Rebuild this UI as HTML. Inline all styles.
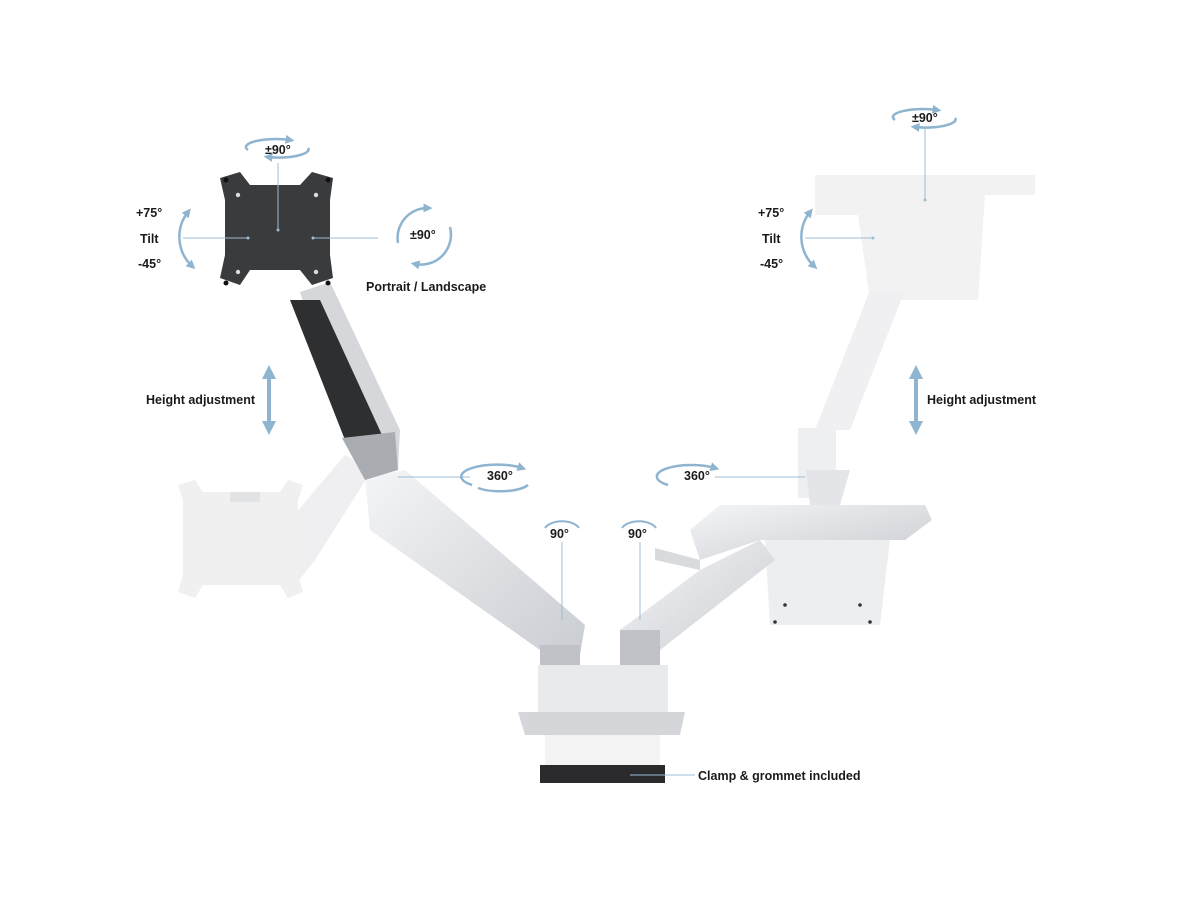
<!DOCTYPE html>
<html><head><meta charset="utf-8"><style>
html,body{margin:0;padding:0;background:#fff;width:1200px;height:900px;overflow:hidden}
text{font-family:"Liberation Sans",sans-serif;font-weight:bold;font-size:12.5px;fill:#1a1a1a}
</style></head><body>
<svg width="1200" height="900" viewBox="0 0 1200 900" xmlns="http://www.w3.org/2000/svg">
<defs>
<marker id="ah" viewBox="0 0 10 10" refX="5" refY="5" markerWidth="9" markerHeight="9" markerUnits="userSpaceOnUse" orient="auto-start-reverse"><path d="M0,0L10,5L0,10z" fill="#8fb4cf"/></marker>
<marker id="ah2" viewBox="0 0 10 10" refX="5" refY="5" markerWidth="14" markerHeight="14" markerUnits="userSpaceOnUse" orient="auto-start-reverse"><path d="M0,0L10,5L0,10z" fill="#8fb4cf"/></marker>
<linearGradient id="sil" x1="0" y1="0" x2="1" y2="1"><stop offset="0" stop-color="#f4f5f7"/><stop offset="1" stop-color="#c9ccd1"/></linearGradient>
</defs>
<!-- ghost left monitor plate & arm -->
<path d="M290,520 L345,455 L372,470 L315,560 L295,585z" fill="#efeff1"/>
<path d="M178,485 L195,480 L203,492 H280 L288,480 L303,485 L298,500 V575 L303,592 L288,598 L280,585 H203 L195,598 L178,592 L183,575 V500z" fill="#f0f0f1"/>
<rect x="230" y="492" width="30" height="10" fill="#e2e3e5"/>
<!-- ghost right tray + arm -->
<path d="M815,175 H1035 V195 H985 L978,300 H870 L858,215 H815z" fill="#f2f2f3"/>
<path d="M870,290 L905,290 L850,430 L815,430z" fill="#f0f0f2"/>
<rect x="798" y="428" width="38" height="70" fill="#eeeff1"/>
<path d="M806,470 L850,470 L840,505 L810,505z" fill="#e3e5e8"/>
<!-- right tray -->
<path d="M690,530 L720,505 L925,505 L932,520 L905,540 L760,540 L700,560z" fill="url(#sil)"/>
<path d="M655,548 L700,560 L700,570 L655,560z" fill="#d8dadd"/>
<path d="M765,540 L890,540 L880,625 L770,625z" fill="#eceef0"/>
<g fill="#333"><circle cx="785" cy="605" r="1.8"/><circle cx="860" cy="605" r="1.8"/><circle cx="775" cy="622" r="1.8"/><circle cx="870" cy="622" r="1.8"/></g>
<!-- right lower arm -->
<path d="M620,630 L700,570 L760,540 L775,560 L660,650 L620,660z" fill="url(#sil)"/>
<!-- left lower arm -->
<path d="M365,478 L405,470 L585,625 L580,655 L545,660 L540,650 L370,530z" fill="url(#sil)"/>
<!-- base -->
<path d="M540,645 H580 V668 H540z" fill="#bfc2c6"/>
<path d="M620,630 H660 V668 H620z" fill="#bfc2c6"/>
<path d="M538,665 H668 V715 H538z" fill="#e9eaec"/>
<path d="M518,712 H685 L680,735 H525z" fill="#d4d6d9"/>
<rect x="545" y="735" width="115" height="30" fill="#f3f3f4"/>
<rect x="540" y="765" width="125" height="18" fill="#2a2a2c"/>
<!-- left upper arm -->
<path d="M300,292 L330,282 L400,430 L398,470 L365,478 L345,440z" fill="#d5d7da"/>
<path d="M290,300 L320,300 L382,435 L345,440z" fill="#2e2f31"/>
<path d="M342,438 L395,432 L398,470 L365,480z" fill="#a9acb1"/>
<!-- VESA plate -->
<path d="M220,178 L240,172 L250,185 H300 L312,172 L333,178 L330,200 V255 L333,278 L312,285 L300,270 H250 L240,285 L220,278 L225,255 V200z" fill="#3a3b3d"/>
<g fill="#111"><circle cx="226" cy="180" r="2.5"/><circle cx="328" cy="180" r="2.5"/><circle cx="226" cy="283" r="2.5"/><circle cx="328" cy="283" r="2.5"/></g>
<g fill="#ddd"><circle cx="238" cy="195" r="2.2"/><circle cx="316" cy="195" r="2.2"/><circle cx="238" cy="272" r="2.2"/><circle cx="316" cy="272" r="2.2"/></g>
<!-- callout lines -->
<g stroke="#9cbdd4" stroke-width="1" fill="none">
<line x1="278" y1="163" x2="278" y2="230"/>
<line x1="183" y1="238" x2="248" y2="238"/>
<line x1="313" y1="238" x2="378" y2="238"/>
<line x1="925" y1="128" x2="925" y2="200"/>
<line x1="805" y1="238" x2="873" y2="238"/>
<line x1="398" y1="477" x2="470" y2="477"/>
<line x1="715" y1="477" x2="805" y2="477"/>
<line x1="562" y1="542" x2="562" y2="620"/>
<line x1="640" y1="542" x2="640" y2="620"/>
<line x1="630" y1="775" x2="695" y2="775"/>
</g>
<g fill="#9cbdd4"><circle cx="278" cy="230" r="1.5"/><circle cx="248" cy="238" r="1.5"/><circle cx="313" cy="238" r="1.5"/><circle cx="925" cy="200" r="1.5"/><circle cx="873" cy="238" r="1.5"/></g>
<!-- rotation arcs -->
<g stroke="#8fb4cf" stroke-width="2.5" fill="none">
<path d="M248,150 A30,8 0 0 1 290,140" marker-end="url(#ah)"/>
<path d="M308,148 A30,8 0 0 1 268,157" marker-end="url(#ah)"/>
<path d="M895,120 A30,8 0 0 1 937,110" marker-end="url(#ah)"/>
<path d="M955,118 A30,8 0 0 1 915,127" marker-end="url(#ah)"/>
<path d="M472,485 A30,10 0 0 1 522,468" marker-end="url(#ah)"/>
<path d="M528,485 A30,10 0 0 1 478,488"/>
<path d="M668,485 A30,10 0 0 1 715,468" marker-end="url(#ah)"/>
<path d="M188,212 A40,40 0 0 0 192,266" marker-end="url(#ah)" marker-start="url(#ah)"/>
<path d="M810,212 A40,40 0 0 0 814,266" marker-end="url(#ah)" marker-start="url(#ah)"/>
<path d="M398,243 A30,30 0 0 1 428,208" marker-end="url(#ah)"/>
<path d="M450,227 A30,30 0 0 1 415,264" marker-end="url(#ah)"/>
<line x1="269" y1="372" x2="269" y2="428" marker-end="url(#ah2)" marker-start="url(#ah2)" stroke-width="4"/>
<line x1="916" y1="372" x2="916" y2="428" marker-end="url(#ah2)" marker-start="url(#ah2)" stroke-width="4"/>
</g>
<path d="M545,528 a18,10 0 0 1 34,0" stroke="#8fb4cf" stroke-width="2" fill="none"/>
<path d="M622,528 a18,10 0 0 1 34,0" stroke="#8fb4cf" stroke-width="2" fill="none"/>
<!-- labels -->
<text x="265" y="154">±90°</text>
<text x="136" y="217">+75°</text>
<text x="140" y="243">Tilt</text>
<text x="138" y="268">-45°</text>
<text x="410" y="239">±90°</text>
<text x="366" y="291">Portrait / Landscape</text>
<text x="146" y="404">Height adjustment</text>
<text x="487" y="480">360°</text>
<text x="550" y="538">90°</text>
<text x="628" y="538">90°</text>
<text x="684" y="480">360°</text>
<text x="912" y="122">±90°</text>
<text x="758" y="217">+75°</text>
<text x="762" y="243">Tilt</text>
<text x="760" y="268">-45°</text>
<text x="927" y="404">Height adjustment</text>
<text x="698" y="780">Clamp &amp; grommet included</text>
</svg>
</body></html>
